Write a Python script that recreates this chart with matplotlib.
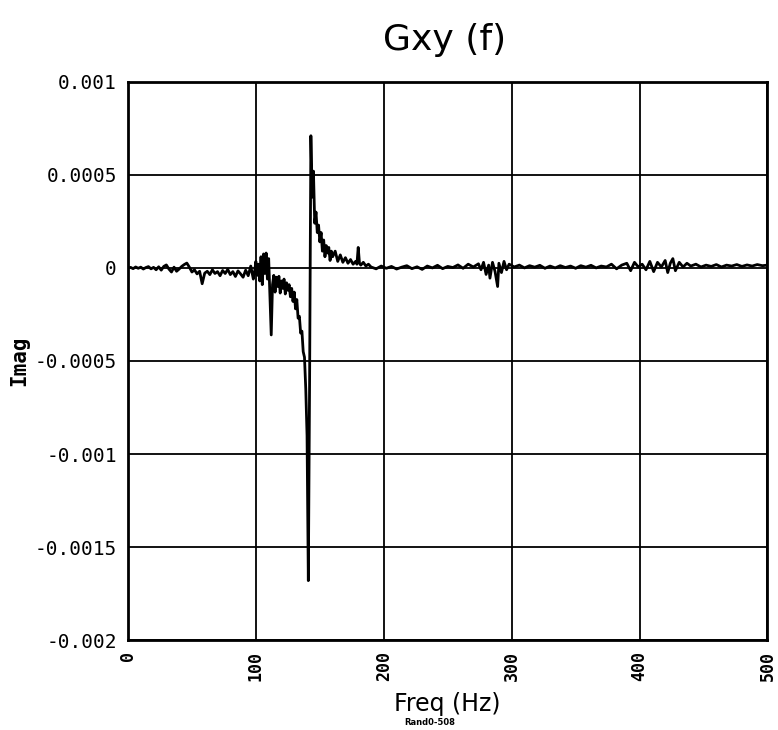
import numpy as np
import matplotlib
matplotlib.use("Agg")
import matplotlib.pyplot as plt

# imaginary part of the cross spectrum (units of 1e-4)
freq_low = [0, 2, 4, 6, 8, 10, 12, 14, 16, 18, 20, 22, 24, 26, 28, 30, 32, 34, 36, 38,
            40, 42, 44, 46, 48, 50, 52, 54, 56, 58, 60, 62, 64, 66, 68, 70, 72, 74, 76, 78,
            80, 82, 84, 86, 88, 90, 92, 94, 96, 98]
imag_low = [0.0, 0.03, -0.04, 0.05, -0.02, 0.04, -0.06, 0.02, 0.07, -0.05, 0.03, -0.1, 0.06, -0.12,
            0.08, 0.16, -0.06, -0.22, 0.04, -0.18, -0.06, 0.08, 0.18, 0.26, 0.04, -0.22, -0.1, -0.32,
            -0.18, -0.85, -0.28, -0.18, -0.36, -0.1, -0.3, -0.2, -0.42, -0.14, -0.3, -0.08, -0.36,
            -0.2, -0.46, -0.16, -0.32, -0.5, -0.12, -0.42, 0.1, -0.6]

freq_mid = [99, 100, 101, 102, 103, 104, 105, 106, 107, 108, 109, 110, 111, 112, 113, 114, 115,
            116, 117, 118, 119, 120, 121, 122, 123, 124, 125, 126, 127, 128, 129, 130, 131, 132,
            133, 134, 135, 136, 137, 138, 139, 140, 141, 142, 143, 144, 145, 146, 147, 148, 149,
            150, 151, 152, 153, 154, 155, 156, 157, 158, 159, 160, 162, 164, 166, 168, 170, 172,
            174, 176, 178, 179, 180, 181, 182, 184, 186, 188]
imag_mid = [-0.2, 0.35, -0.4, 0.2, -0.7, 0.6, -0.9, 0.75, -0.3, 0.8, -0.6, 0.5, -1.6, -3.6, -0.9,
            -0.4, -1.3, -0.5, -1.0, -0.45, -1.35, -0.7, -1.1, -0.6, -1.4, -0.8, -1.2, -0.9, -1.55,
            -1.1, -1.8, -1.3, -2.2, -1.7, -2.7, -2.6, -3.5, -3.4, -4.5, -4.8, -6.5, -9.0, -16.8,
            -6.0, 7.1, 3.8, 5.2, 2.4, 3.0, 1.9, 2.3, 1.4, 1.9, 0.9, 1.5, 0.6, 1.2, 0.8, 1.1, 0.4,
            0.9, 0.6, 0.9, 0.35, 0.7, 0.3, 0.55, 0.25, 0.45, 0.2, 0.35, 0.2, 1.1, 0.25, 0.15, 0.3,
            0.1, 0.2]

freq_high = [190, 194, 198, 202, 206, 210, 214, 218, 222, 226, 230, 234, 238, 242, 246, 250, 254,
             258, 262, 266, 270, 274, 276, 278, 280, 282, 283, 285, 287, 289, 290, 292, 294, 296,
             298, 302, 306, 310, 314, 318, 322, 326, 330, 334, 338, 342, 346, 350, 354, 358, 362,
             366, 370, 374, 378, 382, 386, 390, 393, 396, 399, 402, 405, 408, 411, 414, 417, 420,
             422, 424, 426, 428, 431, 434, 437, 440, 444, 448, 452, 456, 460, 464, 468, 472, 476,
             480, 484, 488, 492, 496, 500]
imag_high = [0.05, -0.05, 0.1, -0.02, 0.08, -0.06, 0.04, 0.12, -0.04, 0.06, -0.08, 0.1, 0.0, 0.14,
             -0.04, 0.08, 0.02, 0.16, -0.02, 0.2, 0.05, 0.22, -0.1, 0.3, -0.35, 0.15, -0.55, 0.3,
             -0.2, -1.0, 0.25, -0.25, 0.35, -0.1, 0.2, 0.05, 0.15, 0.0, 0.12, 0.04, 0.14, -0.02,
             0.1, 0.0, 0.12, 0.02, 0.1, -0.02, 0.12, 0.04, 0.14, 0.0, 0.1, 0.05, 0.2, -0.05, 0.15,
             0.25, -0.15, 0.3, 0.05, 0.2, -0.1, 0.35, -0.2, 0.3, 0.05, 0.4, -0.25, 0.25, 0.5, -0.15,
             0.3, 0.05, 0.25, 0.1, 0.2, 0.05, 0.15, 0.08, 0.18, 0.05, 0.15, 0.1, 0.18, 0.08, 0.16,
             0.1, 0.18, 0.12, 0.15]

yticks = [0.001, 0.0005, 0, -0.0005, -0.001, -0.0015, -0.002]
ytick_labels = ["0.001", "0.0005", "0", "-0.0005", "-0.001", "-0.0015", "-0.002"]
xticks = [0, 100, 200, 300, 400, 500]

freq = np.array(freq_low + freq_mid + freq_high)
imag = np.array(imag_low + imag_mid + imag_high) * 1e-4

mono = "DejaVu Sans Mono"

fig = plt.figure(figsize=(7.78, 7.30), dpi=100)
ax = fig.add_axes([0.1645, 0.123, 0.822, 0.765])

ax.plot(freq, imag, color="black", linewidth=2.0)

ax.set_xlim(0, 500)
ax.set_ylim(-0.002, 0.001)
ax.set_xticks(xticks)
ax.set_xticklabels([str(t) for t in xticks], rotation=90, family=mono,
                   fontweight="bold", fontsize=12)
ax.set_yticks(yticks)
ax.set_yticklabels(ytick_labels, family=mono, fontsize=14)
ax.tick_params(length=0, pad=8)
ax.grid(True, color="black", linewidth=1.3)
for s in ax.spines.values():
    s.set_linewidth(2.0)

ax.set_ylabel("Imag", family=mono, fontweight="bold", fontsize=15, labelpad=4)
ax.set_xlabel("Freq (Hz)", family="DejaVu Sans", fontsize=17, labelpad=8)
fig.text(0.572, 0.945, "Gxy (f)", family="DejaVu Sans", fontsize=26, ha="center", va="center")
fig.text(0.552, 0.004, "Rand0-508", family="DejaVu Sans", fontsize=6,
         fontweight="bold", ha="center", va="bottom")

fig.savefig("out.png", dpi=100)
